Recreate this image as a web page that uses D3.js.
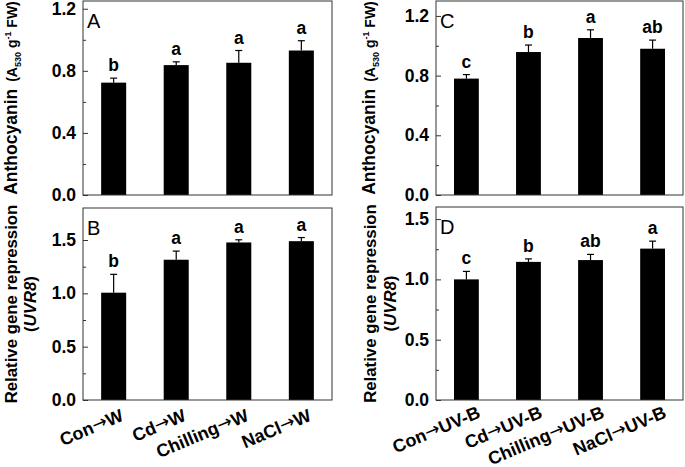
<!DOCTYPE html>
<html><head><meta charset="utf-8">
<script src="https://cdn.jsdelivr.net/npm/d3@7"></script>
<style>
html,body{margin:0;padding:0;background:#fff;}
svg{display:block;font-family:Arial,"Liberation Sans",sans-serif;}
</style></head>
<body><svg id="c" width="685" height="467"></svg>
<script>
// ---- data ----
const categoriesW = ["Con\u2192W", "Cd\u2192W", "Chilling\u2192W", "NaCl\u2192W"];
const categoriesUVB = ["Con\u2192UV-B", "Cd\u2192UV-B", "Chilling\u2192UV-B", "NaCl\u2192UV-B"];

const anthocyaninW = [0.724, 0.837, 0.852, 0.931];
const anthocyaninWErr = [0.029, 0.021, 0.079, 0.063];
const anthocyaninWLetters = ["b", "a", "a", "a"];

const uvr8W = [1.006, 1.315, 1.477, 1.489];
const uvr8WErr = [0.172, 0.081, 0.025, 0.034];
const uvr8WLetters = ["b", "a", "a", "a"];

const anthocyaninUVB = [0.780, 0.958, 1.052, 0.980];
const anthocyaninUVBErr = [0.027, 0.047, 0.055, 0.058];
const anthocyaninUVBLetters = ["c", "b", "a", "ab"];

const uvr8UVB = [1.000, 1.145, 1.160, 1.255];
const uvr8UVBErr = [0.066, 0.025, 0.047, 0.062];
const uvr8UVBLetters = ["c", "b", "ab", "a"];

const anthoTicks = [0, 0.4, 0.8, 1.2];
const anthoMinor = [0.2, 0.6, 1.0];
const geneTicks = [0, 0.5, 1.0, 1.5];
const geneMinor = [0.25, 0.75, 1.25];

// ---- layout ----
const svg = d3.select("#c");
const panels = [
  {tag:"A", cats:categoriesW, vals:anthocyaninW, errs:anthocyaninWErr, letters:anthocyaninWLetters,
   x0:83, x1:332, y0:1, y1:195, ymax:1.25, ticks:anthoTicks, minor:anthoMinor, kind:"antho", lx:11, xlab:false},
  {tag:"B", cats:categoriesW, vals:uvr8W, errs:uvr8WErr, letters:uvr8WLetters,
   x0:83, x1:332, y0:208, y1:400, ymax:1.8, ticks:geneTicks, minor:geneMinor, kind:"gene", lx:11, lx2:30, xlab:true, ldx:11, ly:420},
  {tag:"C", cats:categoriesUVB, vals:anthocyaninUVB, errs:anthocyaninUVBErr, letters:anthocyaninUVBLetters,
   x0:436, x1:683, y0:1, y1:195, ymax:1.3, ticks:anthoTicks, minor:anthoMinor, kind:"antho", lx:369, xlab:false},
  {tag:"D", cats:categoriesUVB, vals:uvr8UVB, errs:uvr8UVBErr, letters:uvr8UVBLetters,
   x0:436, x1:683, y0:207, y1:400, ymax:1.6, ticks:geneTicks, minor:geneMinor, kind:"gene", lx:370, lx2:390, xlab:true, ldx:15, ly:417}
];

const fmt = d3.format(".1f");

panels.forEach(p => {
  const x = d3.scaleBand().domain(p.cats).range([p.x0, p.x1]).paddingInner(0.6).paddingOuter(0.29);
  const y = d3.scaleLinear().domain([0, p.ymax]).range([p.y1, p.y0]);
  const g = svg.append("g");

  // bars
  g.selectAll("rect.bar").data(p.vals).join("rect")
    .attr("x", (d,i) => x(p.cats[i]))
    .attr("y", d => y(d))
    .attr("width", x.bandwidth())
    .attr("height", d => y(0) - y(d))
    .attr("fill", "#000");

  // error bars
  const cx = i => x(p.cats[i]) + x.bandwidth()/2;
  g.selectAll("line.err").data(p.vals).join("line")
    .attr("x1", (d,i) => cx(i)).attr("x2", (d,i) => cx(i))
    .attr("y1", d => y(d)).attr("y2", (d,i) => y(d + p.errs[i]))
    .attr("stroke", "#000").attr("stroke-width", 1.2);
  g.selectAll("line.cap").data(p.vals).join("line")
    .attr("x1", (d,i) => cx(i) - 3.5).attr("x2", (d,i) => cx(i) + 3.5)
    .attr("y1", (d,i) => y(d + p.errs[i])).attr("y2", (d,i) => y(d + p.errs[i]))
    .attr("stroke", "#000").attr("stroke-width", 1.2);

  // significance letters
  g.selectAll("text.sig").data(p.letters).join("text")
    .attr("x", (d,i) => cx(i))
    .attr("y", (d,i) => y(p.vals[i] + p.errs[i]) - 7)
    .attr("text-anchor", "middle")
    .attr("font-size", 17.5).attr("font-weight", "bold")
    .text(d => d);

  // y axis (inward ticks)
  const ax = g.append("g").attr("transform", `translate(${p.x0},0)`)
    .call(d3.axisLeft(y).tickValues(p.ticks).tickSizeInner(-5).tickSizeOuter(0).tickPadding(7).tickFormat(fmt));
  ax.select(".domain").remove();
  ax.selectAll(".tick line").attr("stroke", "#333");
  ax.selectAll(".tick text").attr("font-size", 17.5).attr("font-weight", "bold").attr("fill", "#000")
    .attr("font-family", "Arial, 'Liberation Sans', sans-serif");
  const axm = g.append("g").attr("transform", `translate(${p.x0},0)`)
    .call(d3.axisLeft(y).tickValues(p.minor.filter(v => v < p.ymax)).tickSizeInner(-3).tickSizeOuter(0).tickFormat(""));
  axm.select(".domain").remove();
  axm.selectAll(".tick line").attr("stroke", "#333");

  // frame
  g.append("rect").attr("x", p.x0).attr("y", p.y0).attr("width", p.x1 - p.x0).attr("height", p.y1 - p.y0)
    .attr("fill", "none").attr("stroke", "#333").attr("stroke-width", 1);

  // panel tag
  g.append("text").attr("x", p.x0 + 4).attr("y", p.y0 + 27).attr("font-size", 20).text(p.tag);

  // y label
  const ymid = (p.y0 + p.y1) / 2;
  if (p.kind === "antho") {
    const t = g.append("text").attr("transform", `translate(${p.lx},${ymid}) rotate(-90)`)
      .attr("text-anchor", "middle").attr("font-weight", "bold").attr("font-size", 17.5).attr("dy", "0.35em");
    t.append("tspan").text("Anthocyanin");
    t.append("tspan").attr("font-size", 14).attr("dx", 7).text("(A");
    t.append("tspan").attr("font-size", 9).attr("dy", 4).text("530");
    t.append("tspan").attr("font-size", 14).attr("dy", -4).text(" g");
    t.append("tspan").attr("font-size", 9).attr("dy", -6).text("-1");
    t.append("tspan").attr("font-size", 14).attr("dy", 6).text(" FW)");
  } else {
    g.append("text").attr("transform", `translate(${p.lx},${ymid}) rotate(-90)`)
      .attr("text-anchor", "middle").attr("font-weight", "bold").attr("font-size", 16.8).attr("dy", "0.35em")
      .text("Relative gene repression");
    const t2 = g.append("text").attr("transform", `translate(${p.lx2},${ymid}) rotate(-90)`)
      .attr("text-anchor", "middle").attr("font-weight", "bold").attr("font-size", 16.8).attr("dy", "0.35em");
    t2.append("tspan").text("(");
    t2.append("tspan").attr("font-style", "italic").text("UVR8");
    t2.append("tspan").text(")");
  }

  // x labels
  if (p.xlab) {
    const xl = g.selectAll("text.xl").data(p.cats).join("text")
      .attr("transform", (d,i) => `translate(${cx(i) + p.ldx},${p.ly}) rotate(-23)`)
      .attr("text-anchor", "end").attr("font-weight", "bold").attr("font-size", 18);
    xl.each(function(d) {
      const parts = d.split("\u2192");
      const t = d3.select(this);
      t.append("tspan").text(parts[0]);
      t.append("tspan").attr("font-size", 18).attr("font-weight", "normal").attr("dy", -1)
        .attr("font-family", "'DejaVu Sans', sans-serif").attr("textLength", 13).text("\u2192");
      t.append("tspan").attr("dy", 1).text(parts[1]);
    });
  }
});
</script></body></html>
